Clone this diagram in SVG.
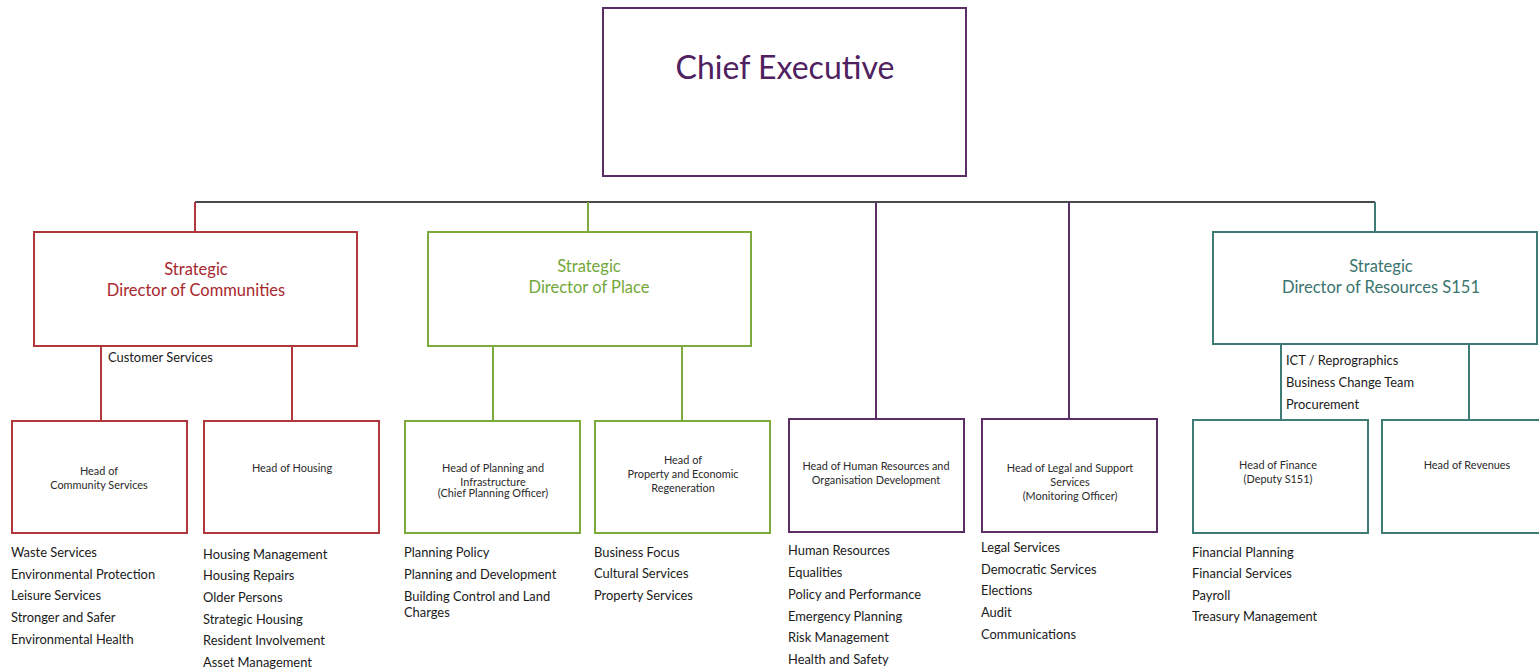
<svg xmlns="http://www.w3.org/2000/svg" width="1539" height="672" viewBox="0 0 1539 672">
<style>
text{font-family:Lato,"Open Sans","Noto Sans",sans-serif;fill:#222}
.box{fill:#fff;stroke-width:2}
.red{stroke:#b0373c}
.grn{stroke:#7daa3c}
.pur{stroke:#5b2e66}
.teal{stroke:#3f7c76}
.tred{fill:#a8282e}
.tgrn{fill:#72a83a}
.tpur{fill:#4f2160}
.tteal{fill:#3a746e}
.dir{font-size:16.5px;text-anchor:middle}
.head{font-size:10.9px;text-anchor:middle;fill:#2a2a2a}
.li{font-size:12.9px;fill:#1a1a1a}
.ln{fill:none;stroke-width:2}
</style>
<rect width="1539" height="672" fill="#fff"/>
<g id="connectors">
<path class="ln" stroke="#4a4a4a" d="M195 202H1375"/>
<path class="ln red" d="M195 202V232"/>
<path class="ln grn" d="M588 202V232"/>
<path class="ln pur" d="M876 202V419M1069 202V419"/>
<path class="ln teal" d="M1375 202V232"/>
<path class="ln red" d="M101 346V420M292 346V420"/>
<path class="ln grn" d="M493 346V420M682 346V420"/>
<path class="ln teal" d="M1281 344V420M1469 344V420"/>
</g>
<g id="chief">
<rect class="box pur" x="603" y="8" width="363" height="168"/>
<text x="785" y="79" font-size="32" text-anchor="middle" class="tpur">Chief Executive</text>
</g>
<g id="dir-communities">
<rect class="box red" x="34" y="232" width="323" height="114"/>
<text class="dir tred" x="196" y="275">Strategic</text>
<text class="dir tred" x="196" y="296">Director of Communities</text>
<text class="li" x="108" y="362" font-size="12.3">Customer Services</text>
</g>
<g id="dir-place">
<rect class="box grn" x="428" y="232" width="323" height="114"/>
<text class="dir tgrn" x="589" y="272">Strategic</text>
<text class="dir tgrn" x="589" y="293">Director of Place</text>
</g>
<g id="dir-resources">
<rect class="box teal" x="1213" y="232" width="324" height="112"/>
<text class="dir tteal" x="1381" y="272">Strategic</text>
<text class="dir tteal" x="1381" y="293">Director of Resources S151</text>
<text class="li" x="1286" y="365" font-size="12.3">ICT / Reprographics</text>
<text class="li" x="1286" y="387" font-size="12.3">Business Change Team</text>
<text class="li" x="1286" y="409" font-size="12.3">Procurement</text>
</g>
<g id="head-community">
<rect class="box red" x="12" y="421" width="175" height="112"/>
<text class="head" x="99" y="475">Head of</text>
<text class="head" x="99" y="489">Community Services</text>
<text class="li" x="11" y="557">Waste Services</text>
<text class="li" x="11" y="579">Environmental Protection</text>
<text class="li" x="11" y="600">Leisure Services</text>
<text class="li" x="11" y="622">Stronger and Safer</text>
<text class="li" x="11" y="644">Environmental Health</text>
</g>
<g id="head-housing">
<rect class="box red" x="204" y="421" width="175" height="112"/>
<text class="head" x="292" y="472">Head of Housing</text>
<text class="li" x="203" y="559">Housing Management</text>
<text class="li" x="203" y="580">Housing Repairs</text>
<text class="li" x="203" y="602">Older Persons</text>
<text class="li" x="203" y="624">Strategic Housing</text>
<text class="li" x="203" y="645">Resident Involvement</text>
<text class="li" x="203" y="667">Asset Management</text>
</g>
<g id="head-planning">
<rect class="box grn" x="405" y="421" width="175" height="112"/>
<text class="head" x="493" y="472">Head of Planning and</text>
<text class="head" x="493" y="486">Infrastructure</text>
<text class="head" x="493" y="497" font-size="5.6" fill="#777">(Chief Planning Officer)</text>
<text class="li" x="404" y="557">Planning Policy</text>
<text class="li" x="404" y="579">Planning and Development</text>
<text class="li" x="404" y="601">Building Control and Land</text>
<text class="li" x="404" y="617">Charges</text>
</g>
<g id="head-property">
<rect class="box grn" x="595" y="421" width="175" height="112"/>
<text class="head" x="683" y="464">Head of</text>
<text class="head" x="683" y="478">Property and Economic</text>
<text class="head" x="683" y="492">Regeneration</text>
<text class="li" x="594" y="557">Business Focus</text>
<text class="li" x="594" y="578">Cultural Services</text>
<text class="li" x="594" y="600">Property Services</text>
</g>
<g id="head-hr">
<rect class="box pur" x="789" y="419" width="175" height="113"/>
<text class="head" x="876" y="470">Head of Human Resources and</text>
<text class="head" x="876" y="484">Organisation Development</text>
<text class="li" x="788" y="555">Human Resources</text>
<text class="li" x="788" y="577">Equalities</text>
<text class="li" x="788" y="599">Policy and Performance</text>
<text class="li" x="788" y="621">Emergency Planning</text>
<text class="li" x="788" y="642">Risk Management</text>
<text class="li" x="788" y="664">Health and Safety</text>
</g>
<g id="head-legal">
<rect class="box pur" x="982" y="419" width="175" height="113"/>
<text class="head" x="1070" y="472">Head of Legal and Support</text>
<text class="head" x="1070" y="486">Services</text>
<text class="head" x="1070" y="500">(Monitoring Officer)</text>
<text class="li" x="981" y="552">Legal Services</text>
<text class="li" x="981" y="574">Democratic Services</text>
<text class="li" x="981" y="595">Elections</text>
<text class="li" x="981" y="617">Audit</text>
<text class="li" x="981" y="639">Communications</text>
</g>
<g id="head-finance">
<rect class="box teal" x="1193" y="420" width="175" height="113"/>
<text class="head" x="1278" y="469">Head of Finance</text>
<text class="head" x="1278" y="483">(Deputy S151)</text>
<text class="li" x="1192" y="557">Financial Planning</text>
<text class="li" x="1192" y="578">Financial Services</text>
<text class="li" x="1192" y="600">Payroll</text>
<text class="li" x="1192" y="621">Treasury Management</text>
</g>
<g id="head-revenues">
<rect class="box teal" x="1382" y="420" width="175" height="113"/>
<text class="head" x="1467" y="469">Head of Revenues</text>
</g>
</svg>
